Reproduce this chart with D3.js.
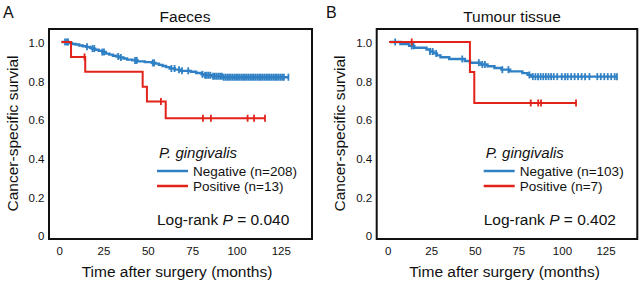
<!DOCTYPE html>
<html>
<head>
<meta charset="utf-8">
<script src="https://cdn.jsdelivr.net/npm/d3@7"></script>
<style>
  body { margin: 0; background: #fff; }
  svg text { font-family: "Liberation Sans", Arial, sans-serif; fill: #111; }
</style>
</head>
<body>
<div id="chart"></div>
<script>

// Axis ticks
var xTicks = [0, 25, 50, 75, 100, 125];
var yTicks = [0, 0.2, 0.4, 0.6, 0.8, 1.0];
var yTickLabels = ['0', '0.2', '0.4', '0.6', '0.8', '1.0'];

// Faeces, negative (n=208)
var faecesNegTime = [1, 5, 7, 9, 11, 13, 15, 17, 18, 20, 22, 24, 26, 28, 30, 32, 34, 36, 38, 41, 44, 48, 52, 54, 56, 58, 60, 62, 65, 68, 74, 77, 80, 81, 86, 92];
var faecesNegSurv = [1, .995, .990, .987, .982, .978, .975, .970, .966, .960, .954, .948, .940, .935, .929, .925, .920, .915, .909, .905, .900, .896, .892, .888, .882, .876, .870, .863, .857, .851, .846, .840, .833, .828, .823, .818];
var faecesNegCensor = [3, 4, 4.7, 15.4, 18.5, 19.5, 24, 25, 33, 34.5, 42.5, 43.5, 52.5, 53.3, 63, 64.8, 67.3, 69, 72.5, 80.5,
                       82, 83, 84, 85, 86.5, 87.5, 88.5, 89.5, 90.5, 91.5, 92.5, 93.5, 94.5, 95.5, 96.5, 97.5, 98.5, 99.5,
                       100.5, 101.5, 102.5, 103.5, 104.5, 105.5, 106.5, 107.5, 108.5, 109.5, 110.5, 111.5, 112.5, 113.5,
                       114.5, 115.5, 116.5, 117.5, 118.5, 119.5, 120.5, 121.5, 122.5, 123.5, 124.5, 125.5, 126.5, 129];

// Faeces, positive (n=13)
var faecesPosTime = [1, 6.4, 14.4, 46.8, 49.2, 59.8];
var faecesPosSurv = [1, .923, .846, .769, .692, .606];
var faecesPosCensor = [14, 57.1, 80.8, 85.3, 106, 109.6, 115.8];

// Tumour tissue, negative (n=103)
var tissueNegTime = [1, 7, 12, 15, 22, 24, 26, 28, 30, 35, 44, 47, 53, 57, 61, 65, 70, 77, 80, 82];
var tissueNegSurv = [1, .990, .980, .970, .961, .951, .941, .931, .921, .912, .902, .893, .884, .875, .866, .857, .848, .839, .830, .821];
var tissueNegCensor = [4, 13.5, 14.5, 24, 25.5, 27.5, 42.5, 52, 54, 55.5, 65.5, 69, 81, 83, 84.5, 86, 87.5, 89, 90.5,
                       92, 93.5, 95, 97, 99.6, 101.5, 103, 105, 107, 109, 111, 113, 115.5, 120, 122, 124, 126, 128, 130, 131.3];

// Tumour tissue, positive (n=7)
var tissuePosTime = [0.5, 46.9, 49.4];
var tissuePosSurv = [1, .845, .685];
var tissuePosCensor = [13.5, 81.8, 86.1, 87.7, 107.8];

// Texts
var panelLetters = ['A', 'B'];
var panelTitles = ['Faeces', 'Tumour tissue'];
var legendTitle = 'P. gingivalis';
var faecesLegend = ['Negative (n=208)', 'Positive (n=13)'];
var tissueLegend = ['Negative (n=103)', 'Positive (n=7)'];
var pValues = ['0.040', '0.402'];
var xTitle = 'Time after surgery (months)';
var yTitle = 'Cancer-specific survial';

var colors = ['#2f80c4', '#e2231a'];

var svg = d3.select('#chart')
            .append('svg')
            .attr('width', 643)
            .attr('height', 287);


function KM_Panel ( svg, box ) {

    // Scoping
    var self = this;

    this.g = svg.append('g');

    this.x = d3.scaleLinear().domain([0, 125]).range([box.x0, box.x125]);
    this.y = d3.scaleLinear().domain([0, 1]).range([235.5, 42]);

    // Frame
    this.g.append('rect')
        .attr('x', box.left)
        .attr('y', 29)
        .attr('width', box.right - box.left)
        .attr('height', 210)
        .attr('fill', 'none')
        .attr('stroke', '#111')
        .attr('stroke-width', 2);

    // Tick labels, no tick marks
    this.g.selectAll('.xtick')
        .data(xTicks).enter()
        .append('text')
        .attr('class', 'xtick')
        .attr('x', function (d) { return self.x(d); })
        .attr('y', 254.5)
        .attr('text-anchor', 'middle')
        .style('font-size', '11.5px')
        .text(function (d) { return d; });

    this.g.selectAll('.ytick')
        .data(yTicks).enter()
        .append('text')
        .attr('class', 'ytick')
        .attr('x', box.left - 4.5)
        .attr('y', function (d) { return self.y(d); })
        .attr('dy', '0.42em')
        .attr('text-anchor', 'end')
        .style('font-size', '11.5px')
        .text(function (d, i) { return yTickLabels[i]; });

    // Axis titles
    this.g.append('text')
        .attr('x', box.xTitle)
        .attr('y', 277)
        .attr('text-anchor', 'middle')
        .style('font-size', '15.5px')
        .text(xTitle);

    this.g.append('text')
        .attr('transform', 'translate(' + box.yTitle + ',133.5) rotate(-90)')
        .attr('text-anchor', 'middle')
        .style('font-size', '15.5px')
        .text(yTitle);

    this.add_title = function ( letter, title ) {

        self.g.append('text')
            .attr('x', box.letterX)
            .attr('y', 17.5)
            .style('font-size', '16px')
            .text(letter);

        self.g.append('text')
            .attr('x', box.titleX)
            .attr('y', 21.5)
            .attr('text-anchor', 'middle')
            .style('font-size', '15.5px')
            .text(title);

    };

    this.plot_curve = function ( times, surv, censor, color, width ) {

        var end = Math.max(d3.max(times), d3.max(censor));
        var data = d3.zip(times, surv);
        data.push([end, surv[surv.length - 1]]);

        var line = d3.line()
                     .x(function (d) { return self.x(d[0]); })
                     .y(function (d) { return self.y(d[1]); })
                     .curve(d3.curveStepAfter);

        self.g.append('path')
            .datum(data)
            .attr('d', line)
            .attr('fill', 'none')
            .attr('stroke', color)
            .attr('stroke-width', width);

        // Survival at a censoring time
        var bisect = d3.bisector(function (d) { return d; }).right;
        var at = function (t) { return surv[Math.max(0, bisect(times, t) - 1)]; };

        self.g.selectAll(null)
            .data(censor).enter()
            .append('line')
            .attr('x1', function (d) { return self.x(d); })
            .attr('x2', function (d) { return self.x(d); })
            .attr('y1', function (d) { return self.y(at(d)) - 3.5; })
            .attr('y2', function (d) { return self.y(at(d)) + 3.5; })
            .attr('stroke', color)
            .attr('stroke-width', 1.8);

    };

    this.add_legend = function ( labels, p ) {

        self.g.append('text')
            .attr('x', box.legX)
            .attr('y', 157.5)
            .style('font-size', '15px')
            .style('font-style', 'italic')
            .text(legendTitle);

        var items = self.g.selectAll('.legend')
                        .data(labels).enter()
                        .append('g')
                        .attr('class', 'legend')
                        .attr('transform', function (d, i) { return 'translate(0,' + i * 15 + ')'; });

        items.append('line')
            .attr('x1', box.legX - 2)
            .attr('x2', box.legX + 29)
            .attr('y1', 171)
            .attr('y2', 171)
            .attr('stroke', function (d, i) { return colors[i]; })
            .attr('stroke-width', 2.5);

        items.append('text')
            .attr('x', box.legX + 34)
            .attr('y', 175.5)
            .style('font-size', '13.5px')
            .text(function (d) { return d; });

        var lr = self.g.append('text')
                     .attr('x', box.legX - 2)
                     .attr('y', 225)
                     .style('font-size', '15.5px');
        lr.append('tspan').text('Log-rank ');
        lr.append('tspan').style('font-style', 'italic').text('P');
        lr.append('tspan').text(' = ' + p);

    };

}

var faeces = new KM_Panel(svg, { left: 49, right: 312, x0: 59.7, x125: 281.3,
                                  xTitle: 177, yTitle: 18, letterX: 3, titleX: 185, legX: 159 });
faeces.add_title(panelLetters[0], panelTitles[0]);
faeces.plot_curve(faecesNegTime, faecesNegSurv, faecesNegCensor, colors[0], 2.4);
faeces.plot_curve(faecesPosTime, faecesPosSurv, faecesPosCensor, colors[1], 2);
faeces.add_legend(faecesLegend, pValues[0]);

var tissue = new KM_Panel(svg, { left: 376.7, right: 637.3, x0: 388.2, x125: 606,
                                  xTitle: 504.5, yTitle: 345, letterX: 326, titleX: 512, legX: 485.7 });
tissue.add_title(panelLetters[1], panelTitles[1]);
tissue.plot_curve(tissueNegTime, tissueNegSurv, tissueNegCensor, colors[0], 2.4);
tissue.plot_curve(tissuePosTime, tissuePosSurv, tissuePosCensor, colors[1], 2);
tissue.add_legend(tissueLegend, pValues[1]);

</script>
</body>
</html>
